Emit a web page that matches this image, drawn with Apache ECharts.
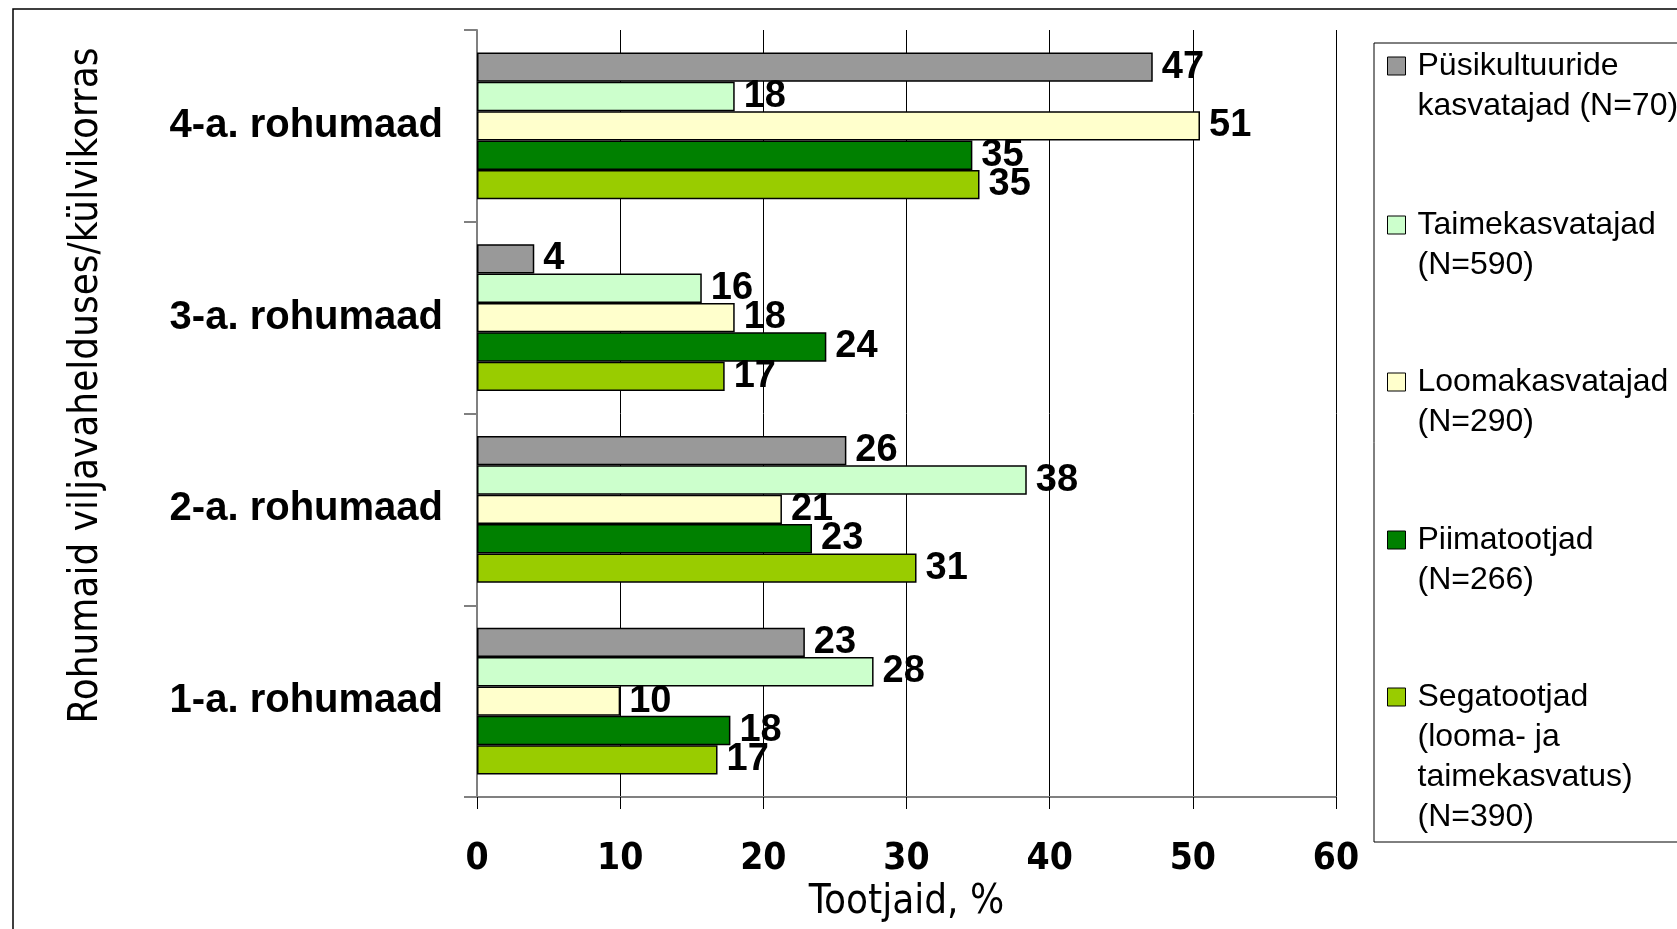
<!DOCTYPE html>
<html>
<head>
<meta charset="utf-8">
<script src="https://cdn.jsdelivr.net/npm/echarts@6/dist/echarts.min.js"></script>
<style>html,body{margin:0;padding:0;background:#fff}#c{width:1677px;height:929px}</style>
</head>
<body>
<div id="c"></div>
<script>
// Categories (bottom to top on the axis)
const categories = ['1-a. rohumaad', '2-a. rohumaad', '3-a. rohumaad', '4-a. rohumaad'];
// Series names
const seriesNames = [
  'Püsikultuuride\nkasvatajad (N=70)',
  'Taimekasvatajad\n(N=590)',
  'Loomakasvatajad\n(N=290)',
  'Piimatootjad\n(N=266)',
  'Segatootjad\n(looma- ja\ntaimekasvatus)\n(N=390)'
];
// Values (% of producers), per series, in category order
const pysikultuurid = [22.9, 25.8, 4.0, 47.2];
const taimekasvatajad = [27.7, 38.4, 15.7, 18.0];
const loomakasvatajad = [10.0, 21.3, 18.0, 50.5];
const piimatootjad = [17.7, 23.4, 24.4, 34.6];
const segatootjad = [16.8, 30.7, 17.3, 35.1];
const xTicks = [0, 10, 20, 30, 40, 50, 60];

const seriesValues = [pysikultuurid, taimekasvatajad, loomakasvatajad, piimatootjad, segatootjad];
const colors = ['#999999', '#CCFFCC', '#FFFFCC', '#008000', '#99CC00'];

const narrow = "'Liberation Sans Narrow', 'DejaVu Sans Condensed', sans-serif";
const sans = "'Liberation Sans', Arial, sans-serif";

const chart = echarts.init(document.getElementById('c'), null, {renderer: 'canvas'});

const series = seriesNames.map((n, i) => ({
  name: n,
  type: 'bar',
  data: seriesValues[i],
  barGap: '0%',
  barCategoryGap: '23.5%',
  itemStyle: {color: colors[i], borderColor: '#000', borderWidth: 1.5},
  label: {
    show: true, position: 'right', distance: 9,
    formatter: p => String(Math.round(p.value)),
    fontFamily: sans, fontWeight: 'bold', fontSize: 38, color: '#000'
  },
  emphasis: {disabled: true}
}));

// one legend per item so the icon lines up with the first text line
const iconCenters = [66, 225, 382, 540, 697];
const legends = seriesNames.map((n, i) => {
  const lines = n.split('\n').length;
  const blank = lines - 1;
  const total = lines + blank;
  return {
    show: true,
    orient: 'vertical',
    left: 1387,
    top: iconCenters[i] - total * 40 / 2,
    padding: 0,
    itemWidth: 18,
    itemHeight: 18,
    icon: 'rect',
    selectedMode: false,
    itemStyle: {borderColor: '#000', borderWidth: 1},
    data: [n],
    formatter: name => '\n'.repeat(blank) + name,
    textStyle: {fontFamily: sans, fontSize: 32, lineHeight: 40, color: '#000', padding: [0, 0, 0, 7]}
  };
});

chart.setOption({
  animation: false,
  backgroundColor: '#fff',
  grid: {left: 477, right: 341, top: 30, bottom: 132, containLabel: false, outerBoundsMode: 'none'},
  xAxis: {
    type: 'value', min: 0, max: 60, interval: 10,
    name: 'Tootjaid, %', nameLocation: 'middle', nameGap: 86,
    nameTextStyle: {fontFamily: narrow, fontSize: 40, color: '#000'},
    axisLine: {show: true, lineStyle: {color: '#808080', width: 2}},
    axisTick: {show: true, length: 12, lineStyle: {color: '#000', width: 1}},
    splitLine: {show: true, lineStyle: {color: '#000', width: 1}},
    axisLabel: {
      margin: 44, fontFamily: narrow, fontWeight: 'bold', fontSize: 37, color: '#000',
      formatter: v => String(v)
    }
  },
  yAxis: {
    type: 'category', data: categories,
    name: 'Rohumaid viljavahelduses/külvikorras', nameLocation: 'middle', nameGap: 370,
    nameTextStyle: {fontFamily: narrow, fontSize: 40, color: '#000', padding: [0, 0, 0, 56]},
    axisLine: {show: true, lineStyle: {color: '#808080', width: 2}},
    axisTick: {show: true, length: 13, lineStyle: {color: '#808080', width: 2}},
    axisLabel: {margin: 34, fontFamily: sans, fontWeight: 'bold', fontSize: 40, color: '#000'},
    splitLine: {show: false}
  },
  legend: legends,
  series: series,
  graphic: [
    {type: 'rect', shape: {x: 13, y: 9, width: 1700, height: 1000}, style: {fill: 'none', stroke: '#000', lineWidth: 1.5}, silent: true, z: -1},
    {type: 'rect', shape: {x: 1374, y: 43, width: 400, height: 799}, style: {fill: 'none', stroke: '#000', lineWidth: 1}, silent: true}
  ]
});
</script>
</body>
</html>
